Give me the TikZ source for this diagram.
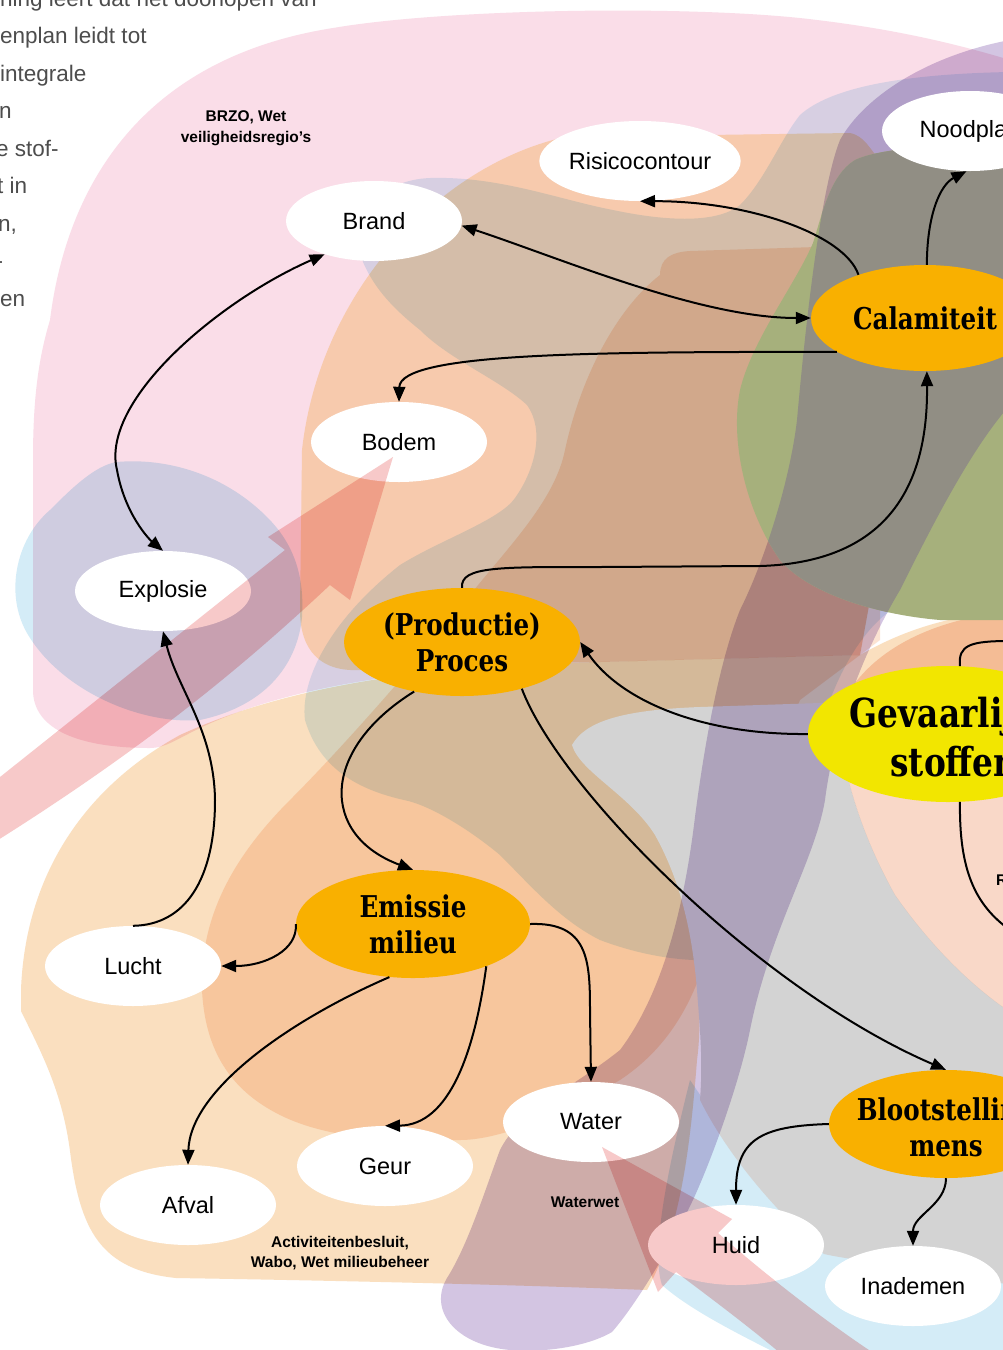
\documentclass[tikz,border=0pt]{standalone}
\usepackage{fontspec}
\setmainfont{Liberation Sans}
\newfontfamily\slabfont{DejaVu Serif}[FakeStretch=0.82]
\usetikzlibrary{shapes.geometric,arrows.meta}
\definecolor{cPink}{HTML}{FADDE8}
\definecolor{cBlueL}{HTML}{D4ECF7}
\definecolor{cBlueM}{HTML}{DCEFF9}
\definecolor{cOrA}{HTML}{FADFBF}
\definecolor{cOrB}{HTML}{FCEABF}
\definecolor{cOrC}{HTML}{FCE3D2}
\definecolor{cGrayB}{HTML}{D3D3D3}
\definecolor{cReach}{HTML}{F9D8C8}
\definecolor{cPurple}{HTML}{D3C5E2}
\definecolor{cGreen}{HTML}{A6B07C}
\definecolor{cDark}{HTML}{918E84}
\definecolor{cArrow}{HTML}{F7C9C9}
\definecolor{cOrange}{HTML}{F9B000}
\definecolor{cYellow}{HTML}{F2E600}
\definecolor{cText}{HTML}{4D4D4D}
\newcommand*\GreenPath{(1010,143) .. controls (940,145) and (880,148) .. (855,160) .. controls (830,175) and (822,215) .. (813,243) .. controls (795,285) and (752,340) .. (740,390) .. controls (730,440) and (745,510) .. (780,560) .. controls (810,595) and (880,615) .. (940,620) -- (1010,620) -- cycle}
\newcommand*\PurplePath{(1010,40) .. controls (930,55) and (865,95) .. (840,140) .. controls (820,190) and (805,330) .. (797,420) .. controls (790,480) and (765,560) .. (740,610) .. controls (720,660) and (705,740) .. (695,817) .. controls (685,900) and (665,990) .. (620,1050) .. controls (570,1090) and (520,1110) .. (500,1150) .. controls (485,1190) and (468,1245) .. (447,1278) .. controls (428,1310) and (455,1345) .. (510,1350) .. controls (550,1353) and (590,1345) .. (612,1332) .. controls (640,1300) and (680,1230) .. (697,1191) .. controls (715,1150) and (740,1080) .. (750,1030) .. controls (770,930) and (815,860) .. (825,800) .. controls (835,720) and (870,640) .. (900,590) .. controls (930,530) and (970,450) .. (1010,405) -- cycle}
\tikzset{
  wnode/.style={ellipse, fill=white, minimum width=176pt, minimum height=80pt, inner sep=0pt, text=black, font=\fontsize{23.5}{28}\selectfont},
  onode/.style={ellipse, fill=cOrange, inner sep=0pt},
  otext/.style={align=center, inner sep=0pt, text=black, font=\slabfont\bfseries\fontsize{30}{36}\selectfont},
  conn/.style={line width=2pt, -{Triangle[length=15pt,width=12pt]}},
  conntwo/.style={line width=2pt, {Triangle[length=15pt,width=12pt]}-{Triangle[length=15pt,width=12pt]}},
  connfree/.style={line width=2pt},
  lawlabel/.style={align=center, inner sep=0pt, text=black, font=\bfseries\fontsize{15.5}{20.5}\selectfont},
  coltext/.style={anchor=base west, inner sep=0pt, text=cText, font=\fontsize{22.5}{27}\selectfont},
  mult/.style={blend mode=multiply}
}
\begin{document}
\begin{tikzpicture}[x=1pt,y=-1pt]
\useasboundingbox (0,0) rectangle (1003,1350);
\clip (0,0) rectangle (1003,1350);
\fill[white] (0,0) rectangle (1003,1350);

% ---------- translucent regions ----------
\begin{scope}[mult]
% pink (BRZO)
\fill[cPink] (33,690) -- (33,460) .. controls (33,400) and (38,360) .. (50,320) .. controls (65,200) and (130,60) .. (333,28) .. controls (450,8) and (700,5) .. (817,20) .. controls (900,30) and (960,45) .. (1010,60) -- (1010,600) -- (870,600) -- (860,655) -- (600,662) .. controls (450,665) and (300,680) .. (200,728) .. controls (175,740) and (165,748) .. (150,748) .. controls (80,748) and (33,730) .. (33,690) -- cycle;
% light blue left
\fill[cBlueL] (117,462) .. controls (160,458) and (220,470) .. (267,517) .. controls (290,540) and (305,570) .. (302,617) .. controls (298,660) and (270,705) .. (200,720) .. controls (140,725) and (60,690) .. (27,633) .. controls (5,595) and (15,540) .. (50,510) .. controls (70,490) and (95,465) .. (117,462) -- cycle;
% middle blue
\fill[cBlueM] (363,262) .. controls (350,215) and (380,180) .. (430,178) .. controls (500,176) and (560,200) .. (613,210) .. controls (660,220) and (715,225) .. (740,205) .. controls (765,180) and (780,140) .. (800,115) .. controls (830,88) and (900,74) .. (1010,72) -- (1010,600) -- (900,605) .. controls (870,620) and (845,660) .. (830,700) -- (720,960) .. controls (680,962) and (640,955) .. (600,940) .. controls (560,920) and (530,885) .. (500,855) .. controls (470,830) and (430,805) .. (404,800) .. controls (360,790) and (320,770) .. (305,720) .. controls (300,680) and (330,620) .. (400,565) .. controls (440,540) and (500,520) .. (515,498) .. controls (535,470) and (545,430) .. (527,405) .. controls (500,380) and (450,360) .. (420,330) .. controls (395,310) and (375,290) .. (363,262) -- cycle;
% orange B (Bodem / Risicocontour)
\fill[cOrB] (565,137) .. controls (440,165) and (320,290) .. (302,450) -- (300,610) .. controls (300,650) and (320,672) .. (360,670) .. controls (450,665) and (520,662) .. (600,662) -- (860,655) -- (870,600) -- (1010,600) -- (1010,160) -- (880,160) .. controls (870,150) and (865,136) .. (850,133) -- cycle;
% orange C (milieu)
\fill[cOrC] (660,275) .. controls (660,258) and (672,252) .. (690,251) -- (880,245) -- (880,640) -- (800,700) -- (720,900) .. controls (705,980) and (680,1040) .. (620,1080) .. controls (560,1115) and (500,1140) .. (460,1140) .. controls (400,1142) and (330,1140) .. (280,1115) .. controls (230,1090) and (205,1050) .. (202,990) .. controls (200,920) and (230,860) .. (290,800) .. controls (340,750) and (420,660) .. (470,595) .. controls (510,545) and (555,500) .. (565,450) .. controls (580,380) and (615,310) .. (660,275) -- cycle;
% orange A (Activiteitenbesluit)
\fill[cOrA] (21,990) .. controls (25,880) and (80,790) .. (180,735) .. controls (300,680) and (450,665) .. (600,662) -- (860,655) .. controls (900,632) and (950,614) .. (1010,612) -- (1010,760) -- (840,760) -- (700,880) .. controls (690,950) and (705,1000) .. (697,1060) .. controls (690,1150) and (680,1230) .. (647,1290) .. controls (500,1284) and (300,1280) .. (176,1278) .. controls (100,1270) and (80,1230) .. (70,1151) .. controls (62,1090) and (40,1050) .. (21,1011) -- cycle;
% light blue bottom right
\fill[cBlueL] (690,1080) .. controls (730,1140) and (780,1205) .. (830,1245) .. controls (880,1262) and (950,1272) .. (1010,1280) -- (1010,1360) -- (790,1360) .. controls (740,1335) and (690,1310) .. (662,1285) .. controls (650,1250) and (670,1160) .. (690,1080) -- cycle;
\end{scope}
% gray region (opaque)
\fill[cGrayB] (572,745) .. controls (585,722) and (620,710) .. (700,707) -- (850,702) -- (840,740) .. controls (850,800) and (870,850) .. (895,895) .. controls (930,945) and (970,985) .. (1010,1012) -- (1010,1285) .. controls (930,1268) and (860,1262) .. (824,1254) .. controls (780,1215) and (730,1160) .. (700,1100) .. controls (703,1060) and (700,1030) .. (697,990) .. controls (692,930) and (680,880) .. (655,835) .. controls (630,795) and (580,772) .. (572,745) -- cycle;
\begin{scope}[mult]
% REACH region
\fill[cReach] (850,690) .. controls (880,645) and (940,618) .. (1010,612) -- (1010,1012) .. controls (970,985) and (930,945) .. (895,895) .. controls (870,850) and (850,800) .. (840,740) -- cycle;
% purple band
\fill[cPurple] \PurplePath;
\end{scope}
% green and dark regions
\fill[cGreen] \GreenPath;
\begin{scope}
\clip \GreenPath;
\fill[cDark] \PurplePath;
\end{scope}

% ---------- text column ----------
\node[coltext] (c1) at (0,6) {ning leert dat het doorlopen van};
\node[coltext] (c2) at (0,43.5) {enplan leidt tot};
\node[coltext] (c3) at (0,81) {integrale};
\node[coltext] (c4) at (-1,118.5) {n};
\node[coltext] (c5) at (-4,156) {e stof-};
\node[coltext] (c6) at (-3,193.5) {t in};
\node[coltext] (c7) at (-2,231) {n,};
\node[coltext] (c8) at (-4.5,268.5) {-};
\node[coltext] (c9) at (0,306) {en};

% ---------- nodes ----------
\node[wnode] (nood) at (970,131) {Noodplan};
\node[wnode] (risico) at (640,161) {Risicocontour};
\node[wnode] (brand) at (374,221) {Brand};
\node[wnode] (bodem) at (399,442) {Bodem};
\node[wnode] (expl) at (163,591) {Explosie};
\node[wnode] (lucht) at (133,966) {Lucht};
\node[wnode] (water) at (591,1122) {Water};
\node[wnode] (geur) at (385,1166) {Geur};
\node[wnode] (afval) at (188,1205) {Afval};
\node[wnode] (huid) at (736,1245) {Huid};
\node[wnode] (inad) at (913,1286) {Inademen};
\node[onode, minimum width=228pt, minimum height=106pt] (calam) at (925,318) {};
\node[otext] (calamt) at (calam.center) {Calamiteit};
\node[onode, minimum width=236pt, minimum height=108pt] (proc) at (462,642) {};
\node[otext] (proct) at (proc.center) {(Productie)\\Proces};
\node[onode, minimum width=234pt, minimum height=108pt] (emis) at (413,924) {};
\node[otext] (emist) at (emis.center) {Emissie\\milieu};
\node[onode, fill=cYellow, minimum width=280pt, minimum height=136pt] (gev) at (948,734) {};
\node[otext, font=\slabfont\bfseries\fontsize{40}{49}\selectfont] (gevt) at ([xshift=6pt,yshift=-3pt]gev.center) {Gevaarlijke\\stoffen};
\node[onode, minimum width=234pt, minimum height=108pt] (blo) at (946,1124) {};
\node[otext] (blot) at ([yshift=-3pt]blo.center) {Blootstelling\\mens};

% ---------- connectors ----------
\draw[conn] (calam.147) .. controls (845,235) and (750,201) .. (risico.south);
\draw[conntwo] (brand.-3) .. controls (560,258) and (700,318) .. (calam.west);
\draw[conn] (calam.201) .. controls (600,352) and (400,352) .. (bodem.north);
\draw[conn] (calam.88) .. controls (927,215) and (940,185) .. (nood.265);
\draw[conn] (proc.north) .. controls (460,566) and (500,567) .. (600,567) -- (760,566) .. controls (900,562) and (928,470) .. (calam.272);
\draw[conntwo] (brand.214) .. controls (220,300) and (100,400) .. (117,470) .. controls (125,515) and (150,540) .. (expl.north);
\draw[conn] (lucht.north) .. controls (185,925) and (215,880) .. (215,800) .. controls (214,730) and (178,690) .. (expl.south);
\draw[conn] (gev.west) .. controls (700,735) and (620,700) .. (proc.east);
\draw[conn] (proc.226) .. controls (320,750) and (320,835) .. (emis.north);
\draw[conn] (proc.-38) .. controls (560,790) and (760,990) .. (blo.north);
\draw[conn] (emis.west) .. controls (298,950) and (265,966) .. (lucht.east);
\draw[conn] (emis.246) .. controls (290,1020) and (190,1090) .. (afval.north);
\draw[conn] (emis.-30) .. controls (475,1050) and (450,1125) .. (geur.north);
\draw[conn] (emis.east) .. controls (588,922) and (590,960) .. (590,1010) -- (water.north);
\draw[conn] (blo.west) .. controls (760,1126) and (736,1140) .. (huid.north);
\draw[conn] (blo.south) .. controls (946,1205) and (913,1215) .. (inad.north);
\coordinate (offA) at (1010,641);
\coordinate (offB) at (1010,930);
\draw[connfree] (gev.80) .. controls (958,645) and (970,641) .. (offA);
\draw[connfree] (gev.-80) .. controls (959,870) and (975,905) .. (offB);

% ---------- big pink arrows ----------
\begin{scope}[mult]
\fill[cArrow] (-10,785) -- (285,550) -- (268,537) -- (393,457) -- (350,600) -- (330,585) .. controls (250,660) and (150,745) .. (-10,845) -- cycle;
\fill[cArrow] (602,1147) -- (732,1219) -- (718,1233) .. controls (767,1276) and (838,1332) .. (900,1370) -- (800,1370) .. controls (760,1335) and (720,1305) .. (676,1272) -- (658,1292) -- cycle;
\end{scope}

% ---------- labels ----------
\node[lawlabel] (brzo) at (246,128) {BRZO, Wet\\veiligheidsregio’s};
\node[lawlabel] (wwet) at (585,1202) {Waterwet};
\node[lawlabel] (activ) at (340,1253) {Activiteitenbesluit,\\Wabo, Wet milieubeheer};
\node[lawlabel, anchor=west] (reach) at (996,880) {REACH};
\end{tikzpicture}
\end{document}
